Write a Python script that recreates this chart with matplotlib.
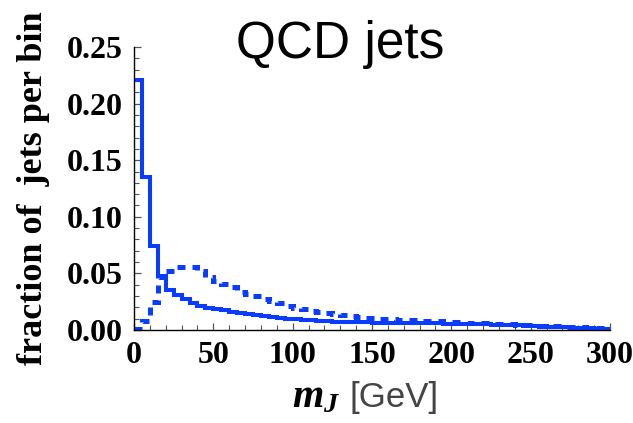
import numpy as np
import matplotlib
matplotlib.use("Agg")
import matplotlib.pyplot as plt

# bin edges in GeV (5 GeV bins, 0-300)
edges = np.arange(0, 301, 5)

# QCD jets, solid histogram
solid = [0.221, 0.135, 0.074, 0.048, 0.035, 0.031, 0.027, 0.0236, 0.0212, 0.0197,
         0.0186, 0.0174, 0.0162, 0.0153, 0.0141, 0.0130, 0.0121, 0.0113, 0.0106, 0.0099,
         0.0094, 0.0089, 0.0085, 0.0081, 0.0078, 0.0075, 0.0072, 0.0070, 0.0068, 0.0067,
         0.0066, 0.0065, 0.0064, 0.0063, 0.0062, 0.0061, 0.0060, 0.0059, 0.0058, 0.0057,
         0.0056, 0.0055, 0.0053, 0.0051, 0.0049, 0.0047, 0.0045, 0.0043, 0.0041, 0.0039,
         0.0036, 0.0033, 0.0030, 0.0027, 0.0024, 0.0021, 0.0018, 0.0015, 0.0012, 0.0009]

# QCD jets, dashed histogram
dashed = [0.001, 0.008, 0.025, 0.047, 0.052, 0.0555, 0.0558, 0.0555, 0.0525, 0.047,
          0.043, 0.041, 0.038, 0.034, 0.032, 0.030, 0.0275, 0.0255, 0.0235, 0.0215,
          0.0197, 0.0185, 0.0172, 0.0160, 0.0150, 0.0140, 0.0132, 0.0122, 0.0115, 0.0110,
          0.0105, 0.0100, 0.0096, 0.0092, 0.0088, 0.0085, 0.0082, 0.0079, 0.0076, 0.0073,
          0.0070, 0.0067, 0.0064, 0.0061, 0.0058, 0.0055, 0.0052, 0.0049, 0.0046, 0.0043,
          0.0040, 0.0037, 0.0034, 0.0031, 0.0028, 0.0025, 0.0023, 0.0021, 0.0019, 0.0017]

xticks = [0, 50, 100, 150, 200, 250, 300]
yticks = [0.00, 0.05, 0.10, 0.15, 0.20, 0.25]

BLUE = "#0a3cff"
SERIF = "Liberation Serif"

plt.rcParams["mathtext.fontset"] = "custom"
plt.rcParams["mathtext.it"] = "Liberation Serif:italic:bold"
plt.rcParams["mathtext.rm"] = "Liberation Serif:bold"

fig = plt.figure(figsize=(6.33, 4.23), dpi=100)
ax = fig.add_axes([134 / 633, 93 / 423, 476 / 633, 283 / 423])

ax.stairs(dashed, edges, baseline=None, color=BLUE, lw=3.6,
          linestyle=(0, (1.6, 1.4)), zorder=3)
ax.stairs(solid, edges, baseline=None, color=BLUE, lw=2.9, zorder=4)

ax.set_xlim(0, 300)
ax.set_ylim(0, 0.25)
ax.spines[["top", "right"]].set_visible(False)
for s in ("left", "bottom"):
    ax.spines[s].set_linewidth(1.0)
    ax.spines[s].set_zorder(5)

ax.set_xticks(xticks)
ax.set_xticks(np.arange(0, 301, 10), minor=True)
ax.set_yticks(yticks)
ax.set_yticks(np.arange(0, 0.2501, 0.01), minor=True)
ax.set_xticklabels([f"{t}" for t in xticks])
ax.set_yticklabels([f"{t:.2f}" for t in yticks])
ax.tick_params(which="major", direction="in", length=5, width=0.9, color="#555555")
ax.tick_params(which="minor", direction="in", length=3.5, width=0.8, color="#555555")
ax.tick_params(axis="x", pad=8)
ax.tick_params(axis="y", pad=8)
for lab in ax.get_xticklabels() + ax.get_yticklabels():
    lab.set_family(SERIF)
    lab.set_fontweight("bold")
    lab.set_fontsize(23)

fig.text(34 / 633, 1 - 188 / 423, "fraction of  jets per bin", rotation=90,
         ha="center", va="center", family=SERIF, fontweight="bold", fontsize=26)

fig.text(340 / 633, 1 - 58 / 423, "QCD jets", ha="center", va="baseline",
         family="Liberation Sans", fontsize=37, color="black")

fig.text(340 / 633, 1 - 407 / 423, r"$m_J$", ha="right", va="baseline",
         fontsize=29)
fig.text(350 / 633, 1 - 407 / 423, "[GeV]", ha="left", va="baseline",
         family="Liberation Sans", fontsize=25, color="#444444")

fig.savefig("out.png", dpi=100)
